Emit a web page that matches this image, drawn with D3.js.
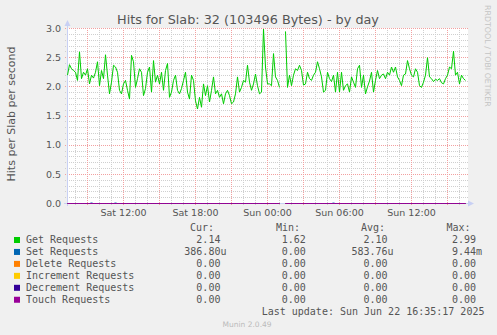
<!DOCTYPE html>
<meta charset="utf-8">
<style>
body { margin: 0; background: #f0f0f0; }
svg { display: block; font-family: "DejaVu Sans", sans-serif; }
.minor { stroke: #cfcfcf; stroke-width: 1px; stroke-dasharray: 1,1; shape-rendering: crispEdges; }
.major { stroke: #f2a0a0; stroke-width: 1px; stroke-dasharray: 1,1; shape-rendering: crispEdges; }
.axisline { stroke: #c8d0f4; stroke-width: 1px; shape-rendering: crispEdges; }
.lbl { fill: #555; font-size: 9.5px; }
.legend { font-family: "DejaVu Sans Mono", monospace; font-size: 10px; fill: #555; white-space: pre; }
.series { fill: none; stroke-width: 1px; }
</style>
<body>
<script src="https://d3js.org/d3.v7.min.js"></script>
<script>

// ---- data (5 min rrd samples shown every 10 min) ----
var startTime = Date.UTC(2025, 5, 21, 7, 20);
var endTime = Date.UTC(2025, 5, 22, 16, 40);
var stepMs = 10 * 60 * 1000;

var getReq = [
  2.20, 2.38, 2.31, 2.28, 2.25, 2.11, 2.60, 2.14, 2.25, 2.20,
  2.31, 2.05, 2.20, 2.15, 2.25, 2.43, 2.02, 2.28, 2.14, 2.55,
  2.20, 1.88, 2.08, 2.37, 2.34, 2.25, 1.94, 1.88, 2.05, 2.11,
  1.94, 1.79, 2.54, 2.43, 1.99, 2.14, 2.31, 2.25, 1.85, 1.97,
  2.25, 2.34, 1.91, 2.45, 2.08, 2.20, 2.05, 2.25, 1.94, 2.28,
  2.40, 1.82, 1.91, 2.11, 2.20, 1.94, 1.88, 1.97, 2.11, 2.25,
  1.91, 1.79, 2.20, 2.11, 1.76, 1.62, 1.82, 1.65, 2.05, 1.85,
  2.02, 1.74, 1.94, 2.17, 1.88, 1.94, 1.82, 1.88, 1.71, 1.88,
  1.94, 1.85, 1.71, 1.74, 1.88, 2.17, 1.91, 1.99, 2.11, 2.08,
  2.37, 2.08, 1.94, 2.05, 2.22, 2.02, 1.88, 1.91, 2.99, 2.34,
  2.05, 2.05, 2.02, 2.57, 2.17, 2.11, 1.99, null, null, 2.95,
  1.99, 2.20, 2.02, 2.20, 2.31, 2.28, 2.37, 2.28, 2.03, 2.05,
  2.25, 2.14, 2.11, 2.20, 2.25, 2.43, 2.31, 2.17, 1.91, 1.94,
  2.25, 2.14, 2.09, 2.20, 1.91, 2.25, 1.91, 2.25, 1.94, 2.02,
  2.05, 1.91, 2.17, 2.08, 1.99, 2.31, 2.37, 1.99, 2.20, 1.88,
  2.00, 2.10, 2.25, 1.91, 2.11, 2.28, 2.14, 2.20, 2.22, 2.14,
  2.25, 2.20, 2.34, 2.25, 2.34, 2.17, 2.11, 2.02, 2.20, 2.22,
  2.45, 2.31, 2.20, 2.17, 2.31, 2.25, 2.02, 1.99, 2.08, 2.20,
  2.50, 2.17, 2.14, 2.09, 2.13, 2.11, 2.14, 2.07, 2.05, 2.14,
  2.20, 2.34, 2.31, 2.61, 2.20, 2.25, 2.05, 2.20, 2.14, 2.11
];

var setReq = [
  0, 0, 0, 0, 0, 0, 0, 0, 0, 0, 0, 0, 0.0094, 0, 0, 0, 0, 0, 0, 0,
  0, 0, 0, 0, 0.0085, 0, 0, 0, 0, 0, 0, 0, 0, 0, 0, 0, 0, 0, 0, 0,
  0, 0, 0, 0, 0, 0, 0, 0, 0, 0, 0, 0, 0, 0, 0, 0, 0, 0, 0, 0,
  0, 0, 0, 0, 0, 0, 0, 0, 0, 0, 0, 0, 0, 0, 0, 0, 0, 0, 0, 0,
  0, 0, 0, 0, 0, 0, 0, 0, 0, 0, 0, 0, 0, 0, 0, 0, 0, 0, 0, 0,
  0, 0, 0, 0, 0, 0, 0, null, null, 0, 0, 0, 0, 0, 0, 0, 0, 0, 0, 0,
  0, 0, 0, 0, 0, 0, 0, 0, 0, 0, 0, 0, 0, 0.0080, 0, 0, 0, 0, 0, 0,
  0, 0, 0, 0, 0, 0, 0, 0, 0, 0, 0, 0, 0, 0, 0, 0, 0, 0, 0, 0,
  0, 0, 0, 0, 0, 0, 0, 0, 0, 0, 0, 0, 0, 0, 0, 0, 0, 0, 0, 0,
  0, 0, 0, 0, 0, 0, 0, 0, 0, 0, 0, 0, 0, 0, 0, 0, 0, 0, 0, 0
];

// delete / increment / decrement / touch are flat zero with the same gap
var zeroLine = [
  0, 0, 0, 0, 0, 0, 0, 0, 0, 0, 0, 0, 0, 0, 0, 0, 0, 0, 0, 0,
  0, 0, 0, 0, 0, 0, 0, 0, 0, 0, 0, 0, 0, 0, 0, 0, 0, 0, 0, 0,
  0, 0, 0, 0, 0, 0, 0, 0, 0, 0, 0, 0, 0, 0, 0, 0, 0, 0, 0, 0,
  0, 0, 0, 0, 0, 0, 0, 0, 0, 0, 0, 0, 0, 0, 0, 0, 0, 0, 0, 0,
  0, 0, 0, 0, 0, 0, 0, 0, 0, 0, 0, 0, 0, 0, 0, 0, 0, 0, 0, 0,
  0, 0, 0, 0, 0, 0, 0, null, null, 0, 0, 0, 0, 0, 0, 0, 0, 0, 0, 0,
  0, 0, 0, 0, 0, 0, 0, 0, 0, 0, 0, 0, 0, 0, 0, 0, 0, 0, 0, 0,
  0, 0, 0, 0, 0, 0, 0, 0, 0, 0, 0, 0, 0, 0, 0, 0, 0, 0, 0, 0,
  0, 0, 0, 0, 0, 0, 0, 0, 0, 0, 0, 0, 0, 0, 0, 0, 0, 0, 0, 0,
  0, 0, 0, 0, 0, 0, 0, 0, 0, 0, 0, 0, 0, 0, 0, 0, 0, 0, 0, 0
];
var deleteReq = zeroLine, incrReq = zeroLine, decrReq = zeroLine, touchReq = zeroLine;

var seriesNames = ["Get Requests", "Set Requests", "Delete Requests",
                   "Increment Requests", "Decrement Requests", "Touch Requests"];
var curVals = ["2.14", "386.80u", "0.00", "0.00", "0.00", "0.00"];
var minVals = ["1.62", "0.00", "0.00", "0.00", "0.00", "0.00"];
var avgVals = ["2.10", "583.76u", "0.00", "0.00", "0.00", "0.00"];
var maxVals = ["2.99", "9.44m", "0.00", "0.00", "0.00", "0.00"];
var yTickVals = [0, 0.5, 1.0, 1.5, 2.0, 2.5, 3.0];

var colors = ["#00cc00", "#0066b3", "#ff8000", "#ffcc00", "#330099", "#990099"];
var allSeries = [getReq, setReq, deleteReq, incrReq, decrReq, touchReq];

// ---- layout ----
var W = 497, H = 335;
var pLeft = 67, pRight = 467, pTop = 28, pBottom = 203;

var svg = d3.select("body").append("svg")
    .attr("width", W).attr("height", H);

svg.append("rect").attr("width", W).attr("height", H).attr("fill", "#f0f0f0");

var x = d3.scaleUtc().domain([startTime, endTime]).range([pLeft + 0.5, pRight + 0.5]);
var y = d3.scaleLinear().domain([0, 3]).range([pBottom + 0.5, pTop + 0.5]);

// canvas
svg.append("rect")
    .attr("x", pLeft).attr("y", pTop)
    .attr("width", pRight - pLeft + 1).attr("height", pBottom - pTop + 1)
    .attr("fill", "#fff");

// grid
var hours = x.ticks(d3.utcHour.every(1));
var isMajor = function(d) { return d.getUTCHours() % 3 == 0; };

svg.append("g").selectAll("line")
    .data(y.ticks(30).filter(function(v) { return Math.abs(v * 2 - Math.round(v * 2)) > 1e-6; }))
  .enter().append("line").attr("class", "minor")
    .attr("x1", pLeft - 2).attr("x2", pRight + 1)
    .attr("y1", function(d) { return y(d); }).attr("y2", function(d) { return y(d); });

svg.append("g").selectAll("line")
    .data(hours.filter(function(d) { return !isMajor(d); }))
  .enter().append("line").attr("class", "minor")
    .attr("x1", function(d) { return x(d); }).attr("x2", function(d) { return x(d); })
    .attr("y1", pTop).attr("y2", pBottom + 3);

svg.append("g").selectAll("line")
    .data(yTickVals.slice(1))
  .enter().append("line").attr("class", "major")
    .attr("x1", pLeft - 2).attr("x2", pRight + 1)
    .attr("y1", function(d) { return y(d); }).attr("y2", function(d) { return y(d); });

svg.append("g").selectAll("line")
    .data(hours.filter(isMajor))
  .enter().append("line").attr("class", "major")
    .attr("x1", function(d) { return x(d); }).attr("x2", function(d) { return x(d); })
    .attr("y1", pTop).attr("y2", pBottom + 3);

// axis lines + arrows
svg.append("line").attr("class", "axisline")
    .attr("x1", pLeft + 0.5).attr("x2", pLeft + 0.5).attr("y1", pBottom + 3).attr("y2", pTop - 4);
svg.append("line").attr("class", "axisline")
    .attr("x1", pLeft - 3).attr("x2", pRight + 3).attr("y1", pBottom + 0.5).attr("y2", pBottom + 0.5);
svg.append("path").attr("fill", "#c8d0f4")
    .attr("d", "M" + (pLeft + 0.5) + "," + (pTop - 8) + "l-3,6h6z");
svg.append("path").attr("fill", "#c8d0f4")
    .attr("d", "M" + (pRight + 7) + "," + (pBottom + 0.5) + "l-6,-3v6z");

// series lines
var line = d3.line()
    .defined(function(d) { return d != null; })
    .x(function(d, i) { return x(startTime + i * stepMs); })
    .y(function(d) { return y(d); });

allSeries.forEach(function(s, k) {
  svg.append("path")
      .datum(s)
      .attr("class", "series")
      .attr("stroke", colors[k])
      .attr("d", line);
});

// y tick labels
svg.append("g").selectAll("text")
    .data(yTickVals)
  .enter().append("text").attr("class", "lbl")
    .attr("x", pLeft - 6).attr("y", function(d) { return y(d) + 3.2; })
    .attr("text-anchor", "end")
    .text(d3.format(".1f"));

// x tick labels
svg.append("g").selectAll("text")
    .data(x.ticks(d3.utcHour.every(6)))
  .enter().append("text").attr("class", "lbl")
    .attr("x", function(d) { return x(d); }).attr("y", 216)
    .attr("text-anchor", "middle")
    .text(d3.utcFormat("%a %H:%M"));

// title, axis label, watermark
svg.append("text")
    .attr("x", 248).attr("y", 24)
    .attr("text-anchor", "middle")
    .attr("fill", "#555").style("font-size", "12.8px")
    .text("Hits for Slab: 32 (103496 Bytes) - by day");

svg.append("text")
    .attr("transform", "translate(15,114) rotate(-90)")
    .attr("text-anchor", "middle")
    .attr("fill", "#555").style("font-size", "11px")
    .text("Hits per Slab per second");

svg.append("text")
    .attr("transform", "translate(485,5) rotate(90)")
    .attr("fill", "#c4c4c4").style("font-size", "7.9px")
    .text("RRDTOOL / TOBI OETIKER");

// legend
var pad = function(s) {
  var suf = /[a-z]$/i.test(s) ? "" : " ";
  var num = s + suf;
  while (num.length < 7) num = " " + num;
  return num;
};

var heads = [["Cur:", 190], ["Min:", 276], ["Avg:", 361], ["Max:", 446.5]];
svg.append("g").selectAll("text")
    .data(heads)
  .enter().append("text").attr("class", "legend")
    .attr("x", function(d) { return d[1]; }).attr("y", 231.3)
    .text(function(d) { return d[0]; });

var rowY = function(i) { return 243.3 + i * 11.95; };

var rows = svg.append("g").selectAll("g")
    .data(seriesNames)
  .enter().append("g");

rows.append("rect")
    .attr("x", 14).attr("y", function(d, i) { return rowY(i) - 6.3; })
    .attr("width", 6).attr("height", 6)
    .attr("fill", function(d, i) { return colors[i]; });

rows.append("text").attr("class", "legend")
    .attr("x", 26).attr("y", function(d, i) { return rowY(i); })
    .text(function(d) { return d; });

[[curVals, 184.3], [minVals, 269.7], [avgVals, 351.5], [maxVals, 440]].forEach(function(c) {
  rows.append("text").attr("class", "legend")
      .attr("x", c[1]).attr("y", function(d, i) { return rowY(i); })
      .text(function(d, i) { return pad(c[0][i]); });
});

svg.append("text").attr("class", "legend")
    .attr("x", 261.7).attr("y", rowY(6))
    .text("Last update: Sun Jun 22 16:35:17 2025");

svg.append("text")
    .attr("x", 222.5).attr("y", 327)
    .attr("fill", "#bbb").style("font-size", "7.5px")
    .text("Munin 2.0.49");

</script>
</body>
